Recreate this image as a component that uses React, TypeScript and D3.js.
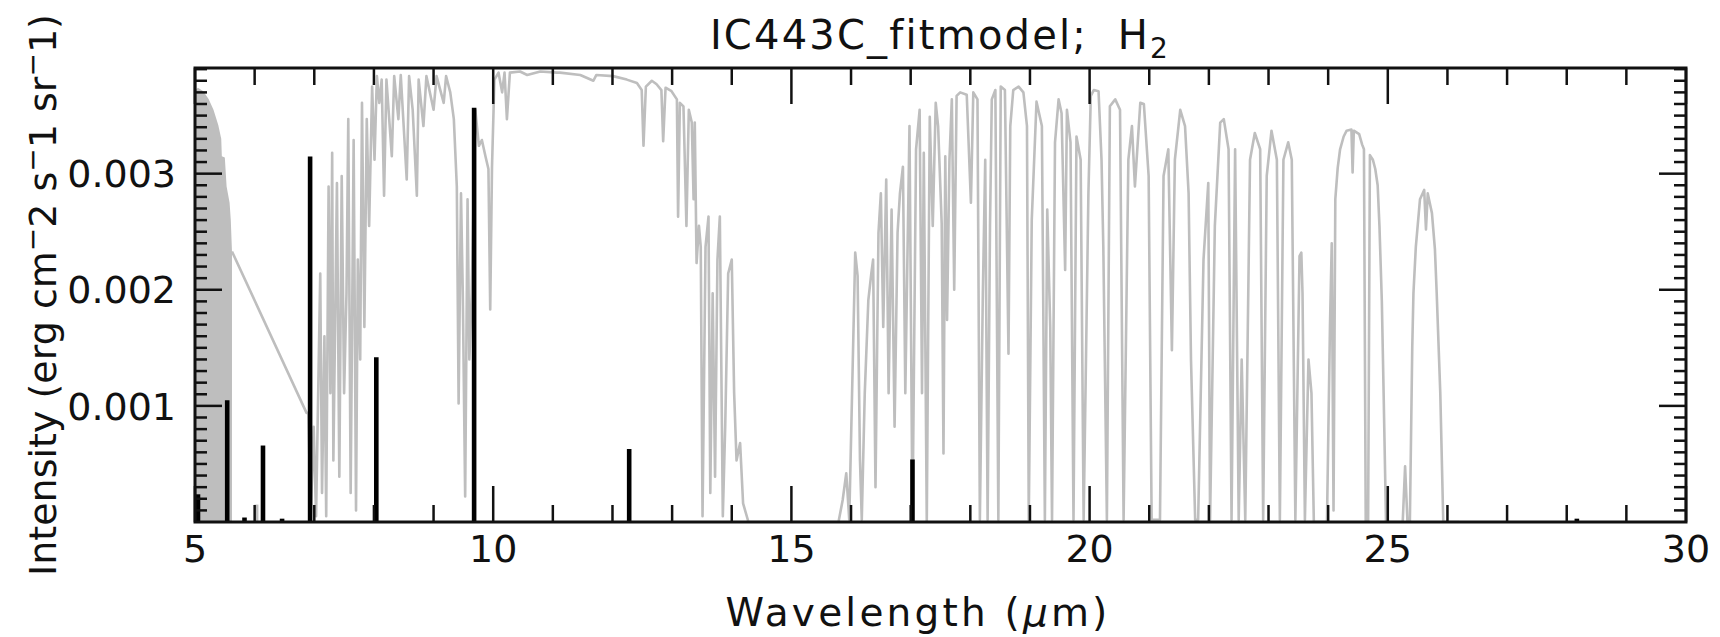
import React, { useRef, useEffect } from 'react';
import * as d3 from 'd3';

// H2 model fit for IC443C, gray = model spectrum, black = H2 S(J) lines
const xTicks = [5, 10, 15, 20, 25, 30];
const yTicks = [0.001, 0.002, 0.003];
const yTickLabels = ['0.001', '0.002', '0.003'];

// dense part of the model at the blue end (drawn as filled band)
const denseEnvelope: [number, number][] = [
  [5.0, 0.00372], [5.05, 0.00374], [5.14, 0.00371], [5.23, 0.00364], [5.31, 0.00355],
  [5.39, 0.00342], [5.44, 0.0033], [5.45, 0.00315], [5.5, 0.00314], [5.53, 0.00289],
  [5.58, 0.00275], [5.6, 0.0026], [5.62, 0.00233],
];

const modelCurve: [number, number][] = [
  [5.62, 0.00233], [6.87, 0.00094], [6.9, 0.00094], [6.94, 0.00005], [6.99, 0.00082],
  [7.03, 0.00005], [7.1, 0.00214], [7.13, 0.00025], [7.17, 0.0016], [7.2, 0.00005],
  [7.24, 0.00289], [7.27, 0.00111], [7.3, 0.00318], [7.32, 0.00053], [7.38, 0.00292],
  [7.42, 0.00039], [7.46, 0.00298], [7.5, 0.00111], [7.54, 0.00197], [7.57, 0.00347],
  [7.61, 0.00025], [7.66, 0.00329], [7.7, 0.0001], [7.73, 0.00226], [7.77, 0.0014],
  [7.8, 0.00361], [7.84, 0.00168], [7.88, 0.00347], [7.92, 0.00255], [7.97, 0.00375],
  [8.01, 0.00312], [8.05, 0.00384], [8.09, 0.00361], [8.13, 0.00381], [8.17, 0.00281],
  [8.21, 0.00381], [8.3, 0.00315], [8.34, 0.00384], [8.41, 0.00347], [8.45, 0.00385],
  [8.55, 0.00295], [8.59, 0.00384], [8.65, 0.00355], [8.72, 0.00281], [8.75, 0.00381],
  [8.83, 0.00341], [8.88, 0.00384], [9.0, 0.00355], [9.05, 0.00384], [9.17, 0.00361],
  [9.21, 0.00384], [9.28, 0.0037], [9.34, 0.00347], [9.39, 0.00289], [9.42, 0.00102],
  [9.46, 0.00283], [9.49, 0.00197], [9.53, 0.00022], [9.57, 0.00278], [9.6, 0.0014],
  [9.64, 0.00197], [9.7, 0.00355], [9.76, 0.00324], [9.81, 0.00329], [9.87, 0.00315],
  [9.92, 0.00304], [9.95, 0.00183], [9.98, 0.00306], [10.02, 0.00381], [10.09, 0.00387],
  [10.15, 0.0037], [10.19, 0.00387], [10.23, 0.00347], [10.28, 0.00387], [10.45, 0.00388],
  [10.57, 0.00385], [10.79, 0.00388], [11.07, 0.00387], [11.12, 0.00387], [11.46, 0.00385],
  [11.68, 0.0038], [11.73, 0.00385], [12.01, 0.00384], [12.24, 0.00381], [12.41, 0.00378],
  [12.49, 0.00372], [12.52, 0.00324], [12.56, 0.00375], [12.66, 0.0038], [12.74, 0.00377],
  [12.82, 0.00372], [12.85, 0.00328], [12.89, 0.00374], [12.99, 0.00371], [13.08, 0.00364],
  [13.1, 0.00263], [13.13, 0.00361], [13.19, 0.00358], [13.24, 0.00255], [13.28, 0.00355],
  [13.33, 0.00344], [13.36, 0.00278], [13.38, 0.00344], [13.41, 0.00223], [13.45, 0.00255],
  [13.48, 0.00237], [13.51, 0.00005], [13.56, 0.00237], [13.61, 0.00263], [13.64, 0.00025],
  [13.68, 0.00197], [13.72, 0.00039], [13.76, 0.00226], [13.8, 0.00263], [13.85, 0.00005],
  [13.89, 0.00082], [13.94, 0.00214], [14.0, 0.00226], [14.04, 0.00111], [14.08, 0.00053],
  [14.14, 0.00068], [14.19, 0.00016], [14.28, 0.0], [15.79, 0.0], [15.86, 0.00019],
  [15.92, 0.00042], [15.97, 0.00002], [16.03, 0.0014], [16.07, 0.00232], [16.11, 0.00212],
  [16.15, 0.00053], [16.18, 0.00002], [16.23, 0.00111], [16.29, 0.00191], [16.34, 0.00214],
  [16.37, 0.00226], [16.41, 0.0003], [16.46, 0.00249], [16.5, 0.00283], [16.54, 0.00168],
  [16.59, 0.00295], [16.63, 0.00111], [16.68, 0.00269], [16.73, 0.00082], [16.78, 0.00249],
  [16.82, 0.00283], [16.87, 0.00306], [16.91, 0.00111], [16.98, 0.00341], [17.03, 0.0],
  [17.09, 0.00321], [17.15, 0.00355], [17.19, 0.00111], [17.22, 0.00318], [17.27, 0.0],
  [17.32, 0.00349], [17.37, 0.00255], [17.42, 0.00361], [17.46, 0.00341], [17.52, 0.00257],
  [17.55, 0.00059], [17.58, 0.00315], [17.61, 0.00174], [17.65, 0.00312], [17.69, 0.00364],
  [17.73, 0.002], [17.77, 0.00367], [17.83, 0.0037], [17.94, 0.00368], [18.01, 0.00275],
  [18.05, 0.0037], [18.12, 0.00364], [18.16, 0.00002], [18.21, 0.00197], [18.25, 0.00312],
  [18.29, 0.00002], [18.33, 0.00255], [18.36, 0.00364], [18.42, 0.00372], [18.47, 0.00002],
  [18.51, 0.00375], [18.58, 0.00372], [18.64, 0.00145], [18.67, 0.00341], [18.72, 0.00372],
  [18.81, 0.00375], [18.89, 0.0037], [18.95, 0.00341], [18.98, 0.00002], [19.03, 0.0026],
  [19.11, 0.00362], [19.2, 0.00341], [19.25, 0.00002], [19.29, 0.00269], [19.34, 0.00168],
  [19.37, 0.00002], [19.42, 0.00327], [19.48, 0.00364], [19.53, 0.00352], [19.59, 0.00217],
  [19.62, 0.00355], [19.68, 0.00327], [19.73, 0.00002], [19.78, 0.00332], [19.85, 0.00312],
  [19.9, 0.00002], [19.98, 0.00283], [20.02, 0.00367], [20.07, 0.00372], [20.15, 0.00371],
  [20.2, 0.00312], [20.23, 0.00237], [20.29, 0.00002], [20.34, 0.00358], [20.43, 0.00364],
  [20.51, 0.00355], [20.57, 0.00002], [20.65, 0.00312], [20.71, 0.00341], [20.76, 0.00289],
  [20.85, 0.00361], [20.91, 0.0036], [20.99, 0.00298], [21.04, 0.00002], [21.18, 0.00002],
  [21.24, 0.00298], [21.32, 0.00321], [21.38, 0.00148], [21.43, 0.00312], [21.52, 0.00355],
  [21.6, 0.00341], [21.66, 0.00283], [21.7, 0.0014], [21.77, 0.00002], [21.82, 0.00002],
  [21.91, 0.00226], [21.99, 0.00292], [22.02, 0.00002], [22.1, 0.00255], [22.19, 0.00344],
  [22.25, 0.00347], [22.33, 0.00321], [22.38, 0.00002], [22.44, 0.00321], [22.5, 0.00002],
  [22.55, 0.0014], [22.61, 0.00002], [22.69, 0.00312], [22.77, 0.00335], [22.86, 0.00321],
  [22.91, 0.00002], [22.97, 0.00298], [23.05, 0.00337], [23.14, 0.00312], [23.19, 0.00002],
  [23.25, 0.00312], [23.33, 0.00327], [23.39, 0.00312], [23.45, 0.00002], [23.52, 0.00229],
  [23.55, 0.00232], [23.57, 0.00197], [23.61, 0.00002], [23.67, 0.0014], [23.72, 0.00111],
  [23.76, 0.0], [23.98, 0.0], [24.03, 0.00168], [24.06, 0.0024], [24.09, 0.0001],
  [24.12, 0.00278], [24.16, 0.00305], [24.2, 0.00321], [24.26, 0.00332], [24.31, 0.00337],
  [24.39, 0.00338], [24.41, 0.00301], [24.43, 0.00337], [24.52, 0.00334], [24.57, 0.00325],
  [24.6, 0.00321], [24.63, 0.0], [24.67, 0.0], [24.7, 0.00316], [24.75, 0.00312],
  [24.79, 0.00304], [24.83, 0.0029], [24.86, 0.00255], [24.9, 0.0019], [24.93, 0.00111],
  [24.97, 0.0], [25.25, 0.0], [25.29, 0.00048], [25.33, 0.0], [25.37, 0.0],
  [25.41, 0.0015], [25.43, 0.00197], [25.47, 0.00237], [25.54, 0.00278], [25.61, 0.00286],
  [25.64, 0.00252], [25.67, 0.00283], [25.74, 0.00266], [25.79, 0.00235], [25.82, 0.00197],
  [25.88, 0.00111], [25.93, 0.0], [26.2, 0.0],
];

// H2 pure rotational lines (black)
const lineWave = [5.05, 5.54, 5.83, 6.14, 6.46, 6.93, 8.04, 9.68, 12.28, 17.03, 28.17];
const lineFlux = [0.00023, 0.00104, 0.00003, 0.00065, 0.00002, 0.00314, 0.00141, 0.00356, 0.00062, 0.00053, 0.00002];
// weak line drawn in gray
const weakWave = [6.03];
const weakFlux = [0.00015];

const App = () => {
  const svgRef = useRef<SVGSVGElement>(null);
  const width = 1720;
  const height = 637;
  const left = 195, right = 1686, top = 68, bottom = 522;
  const font = 'DejaVu Sans, sans-serif';

  useEffect(() => {
    const svg = d3.select(svgRef.current);
    svg.selectAll('*').remove();

    const x = d3.scaleLinear().domain([5, 30]).range([left, right]);
    const y = d3.scaleLinear().domain([0, 0.00391]).range([bottom, top]);
    const gray = '#bebebe';

    const plot = svg.append('g');
    plot.append('clipPath').attr('id', 'clip')
      .append('rect').attr('x', left).attr('y', top).attr('width', right - left).attr('height', bottom - top);
    const inner = plot.append('g').attr('clip-path', 'url(#clip)');

    const area = d3.area<[number, number]>()
      .x((d) => x(d[0]))
      .y0(y(0))
      .y1((d) => y(d[1]));
    inner.append('path').datum(denseEnvelope).attr('d', area).attr('fill', gray);

    const line = d3.line<[number, number]>().x((d) => x(d[0])).y((d) => y(d[1]));
    inner.append('path').datum(modelCurve)
      .attr('d', line)
      .attr('fill', 'none')
      .attr('stroke', gray)
      .attr('stroke-width', 2.6)
      .attr('stroke-linejoin', 'round');

    inner.selectAll('.weak').data(weakWave).enter().append('line')
      .attr('x1', (d) => x(d)).attr('x2', (d) => x(d))
      .attr('y1', y(0)).attr('y2', (d, i) => y(weakFlux[i]))
      .attr('stroke', gray).attr('stroke-width', 4);

    inner.selectAll('.h2').data(lineWave).enter().append('line')
      .attr('x1', (d) => x(d)).attr('x2', (d) => x(d))
      .attr('y1', y(0)).attr('y2', (d, i) => y(lineFlux[i]) - 1)
      .attr('stroke', '#000').attr('stroke-width', 4.6);

    // ticks, IDL style: on all four sides
    const axes = svg.append('g').attr('stroke', '#111').attr('stroke-width', 2.5);
    const xMinor = d3.range(5, 31, 1);
    xMinor.forEach((v) => {
      const len = v % 5 === 0 ? 36 : 17;
      axes.append('line').attr('x1', x(v)).attr('x2', x(v)).attr('y1', bottom).attr('y2', bottom - len);
      axes.append('line').attr('x1', x(v)).attr('x2', x(v)).attr('y1', top).attr('y2', top + len);
    });
    const yMinor = d3.range(1, 40, 1).map((k) => k * 0.0001);
    yMinor.forEach((v, i) => {
      const len = (i + 1) % 10 === 0 ? 27 : 12;
      axes.append('line').attr('x1', left).attr('x2', left + len).attr('y1', y(v)).attr('y2', y(v));
      axes.append('line').attr('x1', right).attr('x2', right - len).attr('y1', y(v)).attr('y2', y(v));
    });
    axes.append('rect')
      .attr('x', left).attr('y', top).attr('width', right - left).attr('height', bottom - top)
      .attr('fill', 'none').attr('stroke-width', 3);

    const labels = svg.append('g').attr('font-family', font).attr('fill', '#111');
    labels.selectAll('.xt').data(xTicks).enter().append('text')
      .attr('x', (d) => x(d)).attr('y', 562)
      .attr('text-anchor', 'middle').attr('font-size', 38)
      .text((d) => String(d));
    labels.selectAll('.yt').data(yTicks).enter().append('text')
      .attr('x', 176).attr('y', (d) => y(d)).attr('dy', '0.36em')
      .attr('text-anchor', 'end').attr('font-size', 38)
      .text((d, i) => yTickLabels[i]);

    const title = labels.append('text').attr('x', 940).attr('y', 49)
      .attr('text-anchor', 'middle').attr('font-size', 40).attr('letter-spacing', 2.2);
    title.append('tspan').text('IC443C_fitmodel;\u00a0\u00a0H');
    title.append('tspan').attr('font-size', 28).attr('dy', 9).text('2');

    const xl = labels.append('text').attr('x', 918).attr('y', 626)
      .attr('text-anchor', 'middle').attr('font-size', 39).attr('letter-spacing', 3.2);
    xl.append('tspan').text('Wavelength\u00a0(');
    xl.append('tspan').attr('font-style', 'italic').text('\u03bc');
    xl.append('tspan').text('m)');

    const yl = labels.append('text')
      .attr('transform', `translate(56, ${(top + bottom) / 2}) rotate(-90)`)
      .attr('text-anchor', 'middle').attr('font-size', 38);
    const parts: [string, boolean][] = [
      ['Intensity (erg cm', false], ['\u2212', true], ['2 s', false], ['\u2212', true],
      ['1 sr', false], ['\u2212', true], ['1)', false],
    ];
    parts.forEach(([t, sup]) => {
      const ts = yl.append('tspan').text(t);
      if (sup) ts.attr('font-size', 28).attr('dy', -14);
      else if (t !== 'Intensity (erg cm') ts.attr('dy', 14).attr('font-size', 38);
    });
  }, []);

  return (
    <div style={{ position: 'absolute', left: 0, top: 0 }}>
      <svg ref={svgRef} width={width} height={height} style={{ display: 'block', background: '#fff' }}></svg>
    </div>
  );
};

export default App;
